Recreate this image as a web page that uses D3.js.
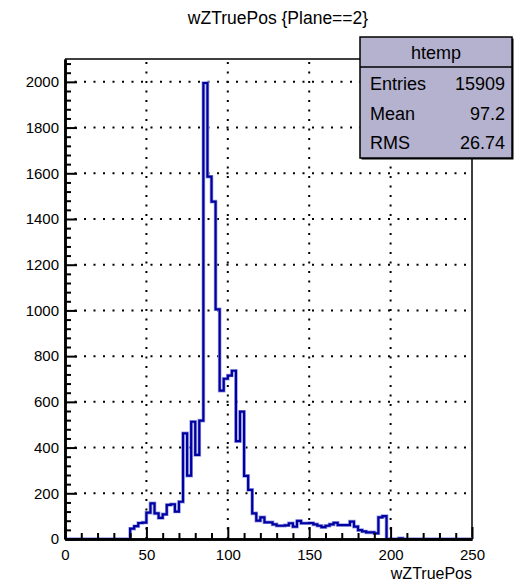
<!DOCTYPE html>
<html>
<head>
<meta charset="utf-8">
<script src="https://cdn.jsdelivr.net/npm/d3@7"></script>
<style>
  html, body { margin: 0; padding: 0; background: #fff; }
  svg { display: block; font-family: "Liberation Sans", Arial, Helvetica, sans-serif; }
</style>
</head>
<body>
<svg id="chart" width="518" height="581"></svg>
<script>
// Histogram of wZTruePos for Plane==2: 100 bins over [0, 250)
const binLow = 0;
const binHigh = 250;
const binCounts = [
  0, 0, 0, 0, 0, 0, 0, 0, 0, 0,
  0, 0, 0, 0, 0, 0, 45, 56, 70, 72,
  115, 156, 112, 92, 108, 149, 152, 120, 163, 462,
  277, 513, 368, 518, 1995, 1585, 1476, 1005, 649, 701,
  715, 736, 428, 557, 276, 215, 112, 80, 95, 73,
  73, 64, 58, 58, 60, 69, 54, 79, 69, 69,
  70, 64, 58, 52, 58, 64, 71, 61, 61, 61,
  76, 54, 39, 33, 29, 29, 25, 95, 100, 0,
  0, 0, 3, 0, 0, 0, 0, 0, 0, 0,
  0, 0, 0, 0, 0, 0, 0, 0, 0, 0
];
const xTicks = [0, 50, 100, 150, 200, 250];
const yTicks = [0, 200, 400, 600, 800, 1000, 1200, 1400, 1600, 1800, 2000];
const yMax = 2100;
const chartTitle = "wZTruePos {Plane==2}";
const xTitle = "wZTruePos";
const statName = "htemp";
const statLabels = ["Entries", "Mean", "RMS"];
const statValues = ["15909", "97.2", "26.74"];

const svg = d3.select("#chart");
const frame = { left: 65, right: 472, top: 59, bottom: 539 };

const x = d3.scaleLinear().domain([binLow, binHigh]).range([frame.left, frame.right]);
const y = d3.scaleLinear().domain([0, yMax]).range([frame.bottom, frame.top]);
const binWidth = (binHigh - binLow) / binCounts.length;

// dotted grid at major ticks
const grid = svg.append("g").attr("stroke", "#000").attr("stroke-width", 2)
  .attr("stroke-dasharray", "2,7.5");
xTicks.filter(t => t > binLow && t < binHigh).forEach(t => {
  grid.append("line").attr("x1", x(t)).attr("x2", x(t))
    .attr("y1", y(0)).attr("y2", y(yMax));
});
yTicks.filter(t => t > 0).forEach(t => {
  grid.append("line").attr("x1", x(binLow)).attr("x2", x(binHigh))
    .attr("y1", y(t)).attr("y2", y(t));
});

// top and right frame edges
svg.append("path")
  .attr("d", `M${x(binLow)},${y(yMax)}H${x(binHigh)}V${y(0)}`)
  .attr("fill", "none").attr("stroke", "#000").attr("stroke-width", 1.5);

// histogram outline as steps
const pts = [[binLow, 0]];
binCounts.forEach((c, i) => {
  pts.push([binLow + i * binWidth, c]);
  pts.push([binLow + (i + 1) * binWidth, c]);
});
pts.push([binHigh, 0]);
const line = d3.line().x(d => x(d[0])).y(d => y(d[1]));
svg.append("path").datum(pts).attr("d", line)
  .attr("fill", "none").attr("stroke", "#9ea0e6").attr("stroke-width", 3.6)
  .attr("stroke-linejoin", "miter");
svg.append("path").datum(pts).attr("d", line)
  .attr("fill", "none").attr("stroke", "#0000a0").attr("stroke-width", 2.2)
  .attr("stroke-linejoin", "miter");

// axes with inward ticks
const yMinor = d3.range(0, yMax + 1, 40).filter(v => v % 200 !== 0);
const xMinor = d3.range(binLow, binHigh + 1, 10).filter(v => v % 50 !== 0);

const yAxis = svg.append("g").attr("transform", `translate(${frame.left},0)`)
  .call(d3.axisLeft(y).tickValues(yTicks).tickSizeInner(-12).tickSizeOuter(0)
    .tickPadding(6).tickFormat(d3.format("d")));
const yMinorAxis = svg.append("g").attr("transform", `translate(${frame.left},0)`)
  .call(d3.axisLeft(y).tickValues(yMinor).tickSizeInner(-6).tickSizeOuter(0).tickFormat(""));

const xAxis = svg.append("g").attr("transform", `translate(0,${frame.bottom})`)
  .call(d3.axisBottom(x).tickValues(xTicks).tickSizeInner(-12).tickSizeOuter(0)
    .tickPadding(10).tickFormat(d3.format("d")));
const xMinorAxis = svg.append("g").attr("transform", `translate(0,${frame.bottom})`)
  .call(d3.axisBottom(x).tickValues(xMinor).tickSizeInner(-6).tickSizeOuter(0).tickFormat(""));

[yAxis, yMinorAxis, xAxis, xMinorAxis].forEach(g => {
  g.select(".domain").attr("stroke", "#000").attr("stroke-width", 2.5);
  g.selectAll(".tick line").attr("stroke", "#000").attr("stroke-width", 2);
  g.selectAll(".tick text").attr("fill", "#000")
    .style("font-size", "15px").style("font-family", "Liberation Sans, Arial, sans-serif");
});

// titles
svg.append("text").attr("x", 278).attr("y", 24).attr("text-anchor", "middle")
  .style("font-size", "17.5px").text(chartTitle);
svg.append("text").attr("x", frame.right).attr("y", 579).attr("text-anchor", "end")
  .style("font-size", "16px").text(xTitle);

// statistics box
const box = { x: 360, y: 37, w: 152, h: 121, head: 30 };
const stats = svg.append("g");
stats.append("rect").attr("x", box.x + 1.5).attr("y", box.y + 1.5)
  .attr("width", box.w).attr("height", box.h).attr("fill", "#000");
stats.append("rect").attr("x", box.x).attr("y", box.y)
  .attr("width", box.w).attr("height", box.h)
  .attr("fill", "#b4b2cf").attr("stroke", "#000").attr("stroke-width", 1.5);
stats.append("line").attr("x1", box.x).attr("x2", box.x + box.w)
  .attr("y1", box.y + box.head).attr("y2", box.y + box.head)
  .attr("stroke", "#000").attr("stroke-width", 1.5);
stats.append("text").attr("x", box.x + box.w / 2).attr("y", box.y + 21.5)
  .attr("text-anchor", "middle").style("font-size", "18px").text(statName);
const rowBase = [89.5, 120, 148.5];
statLabels.forEach((lab, i) => {
  stats.append("text").attr("x", box.x + 10).attr("y", rowBase[i])
    .style("font-size", "18px").text(lab);
  stats.append("text").attr("x", box.x + box.w - 7).attr("y", rowBase[i])
    .attr("text-anchor", "end").style("font-size", "18px").text(statValues[i]);
});
</script>
</body>
</html>
